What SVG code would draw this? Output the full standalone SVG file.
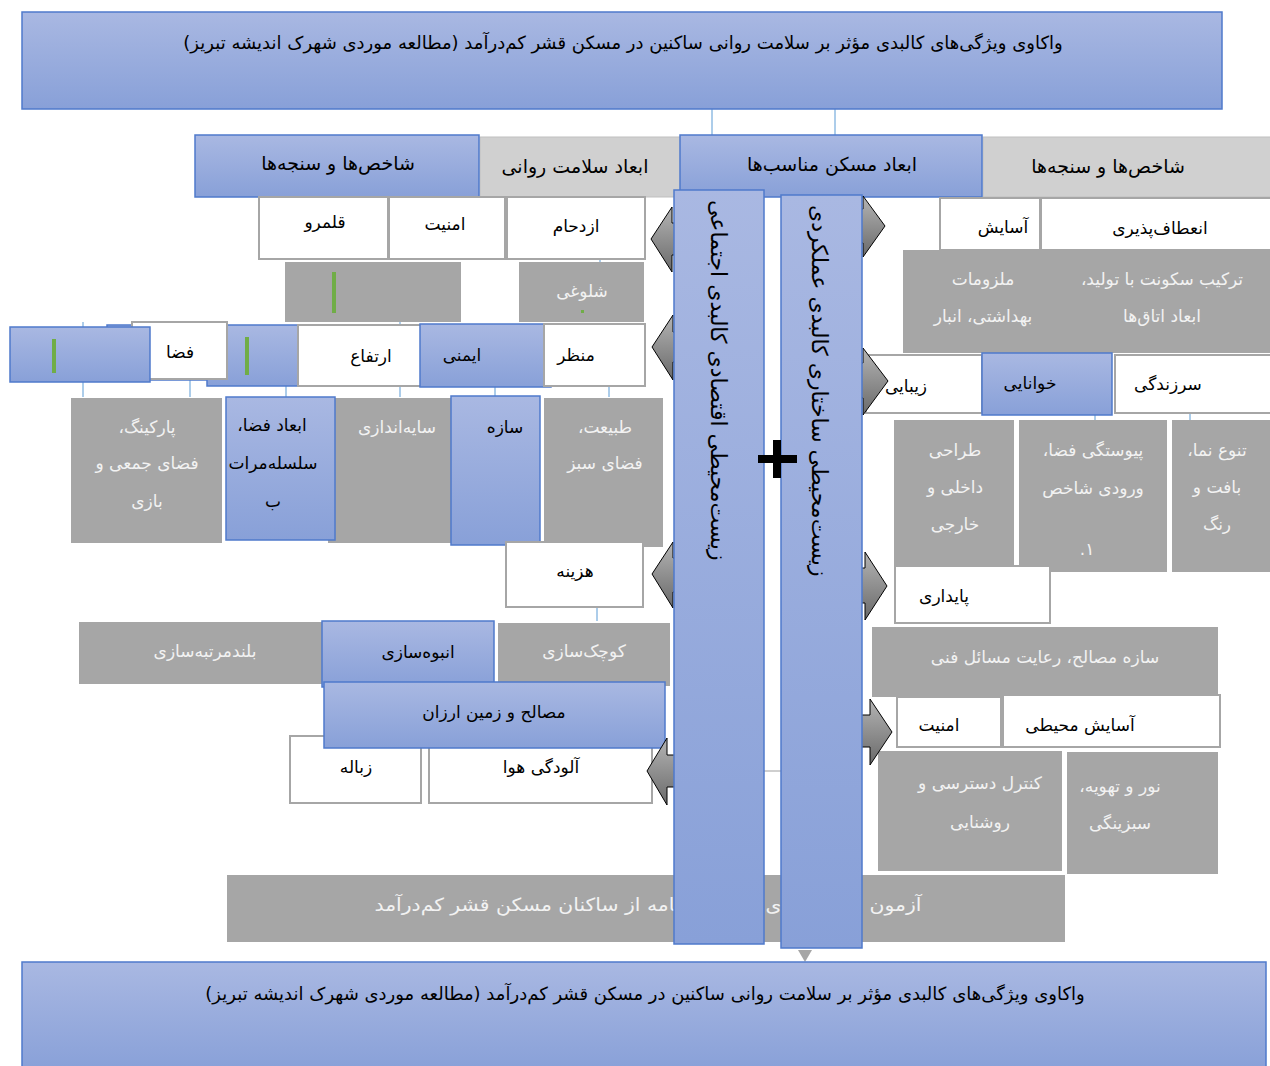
<svg xmlns="http://www.w3.org/2000/svg" width="1270" height="1066" viewBox="0 0 1270 1066">
<defs>
<linearGradient id="gb" x1="0" y1="0" x2="0" y2="1"><stop offset="0" stop-color="#a9b8e2"/><stop offset="1" stop-color="#88a0d8"/></linearGradient>
<linearGradient id="ga" x1="0" y1="0" x2="0" y2="1"><stop offset="0" stop-color="#b4b4b4"/><stop offset="1" stop-color="#6a6a6a"/></linearGradient>
<style>
.blue{fill:url(#gb);stroke:#4f7acb;stroke-width:1.5}
.gray{fill:#a6a6a6}
.white{fill:#fff;stroke:#a6a6a6;stroke-width:2}
.hdr{fill:#d0d0d0;stroke:#bfbfbf;stroke-width:1}
.arr{fill:url(#ga);stroke:#000;stroke-width:1}
.ln{stroke:#5b9bd5;stroke-width:1;fill:none}
.grn{fill:#70ad47}
text{font-family:"DejaVu Sans",sans-serif;font-size:17px;fill:#000;text-anchor:middle;dominant-baseline:central;direction:rtl}
.w{fill:#f2f2f2}
.h{font-size:19px}
.t{font-size:18px}
.v{font-size:22px;text-anchor:end}
</style>
</defs>

<g id="connectors">
<line class="ln" x1="712" y1="88" x2="712" y2="135"/>
<line class="ln" x1="835" y1="109" x2="835" y2="135"/>
<line class="ln" x1="83" y1="322" x2="83" y2="397"/>
<line class="ln" x1="190" y1="378" x2="190" y2="397"/>
<line class="ln" x1="286" y1="385" x2="286" y2="397"/>
<line class="ln" x1="400" y1="322" x2="400" y2="397"/>
<line class="ln" x1="495" y1="386" x2="495" y2="397"/>
<line class="ln" x1="609" y1="386" x2="609" y2="397"/>
<line class="ln" x1="600" y1="259" x2="600" y2="263"/>
<line class="ln" x1="597" y1="607" x2="597" y2="622"/>
<line class="ln" x1="1095" y1="413" x2="1095" y2="420"/>
<line class="ln" x1="1190" y1="413" x2="1190" y2="420"/>
<line x1="764" y1="771" x2="781" y2="771" stroke="#bfbfbf" stroke-width="1.5"/>
<path d="M798,950 L812,950 L805,962 Z" fill="#a6a6a6"/>
</g>

<g id="title-top">
<rect class="blue" x="22" y="12" width="1200" height="97"/>
<text class="t" x="623" y="42">واکاوی ویژگی‌های کالبدی مؤثر بر سلامت روانی ساکنین در مسکن قشر کم‌درآمد (مطالعه موردی شهرک اندیشه تبریز)</text>
</g>

<g id="hdr-right"><rect class="hdr" x="983" y="137" width="290" height="60"/><text class="h" x="1108" y="166">شاخص‌ها و سنجه‌ها</text></g>
<g id="hdr-mental"><rect class="hdr" x="480" y="137" width="202" height="60"/><text class="h" x="575" y="166">ابعاد سلامت روانی</text></g>
<g id="hdr-housing"><rect class="blue" x="680" y="135" width="302" height="62"/><text class="h" x="832" y="164">ابعاد مسکن مناسب‌ها</text></g>
<g id="hdr-left"><rect class="blue" x="195" y="135" width="284" height="62"/><text class="h" x="338" y="163">شاخص‌ها و سنجه‌ها</text></g>

<!-- left side -->
<g id="n-qalamro"><rect class="white" x="259" y="197" width="129" height="62"/><text x="325" y="222">قلمرو</text></g>
<g id="n-amniat1"><rect class="white" x="389" y="197" width="116" height="62"/><text x="445" y="224">امنیت</text></g>
<g id="n-ezdeham"><rect class="white" x="507" y="197" width="138" height="62"/><text x="576" y="226">ازدحام</text></g>
<g id="n-gray1"><rect class="gray" x="285" y="262" width="176" height="60"/><rect class="grn" x="332" y="272" width="4" height="41"/></g>
<g id="n-sholughi"><rect class="gray" x="519" y="262" width="125" height="60"/><text class="w" x="582" y="291">شلوغی</text><rect class="grn" x="581" y="310" width="3" height="3"/></g>

<g id="n-blueback"><rect class="blue" x="107" y="325" width="120" height="55"/></g>
<g id="n-blue3"><rect class="blue" x="207" y="325" width="110" height="61"/><rect class="grn" x="245" y="337" width="4" height="38"/></g>
<g id="n-faza"><rect class="white" x="132" y="322" width="95" height="57"/><text x="180" y="352">فضا</text></g>
<g id="n-blue2"><rect class="blue" x="10" y="327" width="140" height="55"/><rect class="grn" x="52" y="339" width="4" height="34"/></g>
<g id="n-ertefa"><rect class="white" x="298" y="325" width="144" height="61"/><text x="371" y="356">ارتفاع</text></g>
<g id="n-imeni"><rect class="blue" x="420" y="324" width="131" height="63"/><text x="462" y="355">ایمنی</text></g>
<g id="n-manzar"><rect class="white" x="544" y="324" width="101" height="62"/><text x="576" y="355">منظر</text></g>

<g id="n-parking"><rect class="gray" x="71" y="398" width="151" height="145"/><text class="w" x="147" y="427">پارکینگ،</text><text class="w" x="147" y="463">فضای جمعی و</text><text class="w" x="147" y="501">بازی</text></g>
<g id="n-sayeh"><rect class="gray" x="328" y="398" width="123" height="145"/><text class="w" x="397" y="427">سایه‌اندازی</text></g>
<g id="n-abad"><rect class="blue" x="226" y="397" width="109" height="143"/><text x="272" y="425">ابعاد فضا،</text><text x="273" y="463">سلسله‌مرات</text><text x="273" y="501">ب</text></g>
<g id="n-tabiat"><rect class="gray" x="544" y="398" width="119" height="149"/><text class="w" x="605" y="427">طبیعت،</text><text class="w" x="605" y="463">فضای سبز</text></g>
<g id="n-sazeh"><rect class="blue" x="451" y="396" width="89" height="149"/><text x="505" y="427">سازه</text></g>

<g id="n-hazineh"><rect class="white" x="506" y="542" width="137" height="65"/><text x="575" y="571">هزینه</text></g>
<g id="n-boland"><rect class="gray" x="79" y="622" width="244" height="62"/><text class="w" x="205" y="651">بلندمرتبه‌سازی</text></g>
<g id="n-kuchak"><rect class="gray" x="497" y="622" width="174" height="65" stroke="#fff" stroke-width="2"/><text class="w" x="584" y="651">کوچک‌سازی</text></g>
<g id="n-zobaleh"><rect class="white" x="290" y="736" width="131" height="67"/><text x="356" y="767">زباله</text></g>
<g id="n-aludegi"><rect class="white" x="429" y="736" width="223" height="67"/><text x="541" y="767">آلودگی هوا</text></g>
<g id="n-anbuh"><rect class="blue" x="322" y="621" width="172" height="66"/><text x="418" y="652">انبوه‌سازی</text></g>
<g id="n-masaleh"><rect class="blue" x="324" y="682" width="341" height="66"/><text x="494" y="712">مصالح و زمین ارزان</text></g>

<!-- right side -->
<g id="n-asayesh"><rect class="white" x="940" y="198" width="100" height="52"/><text x="1003" y="227">آسایش</text></g>
<g id="n-enetaf"><rect class="white" x="1041" y="198" width="232" height="52"/><text x="1160" y="228">انعطاف‌پذیری</text></g>
<g id="n-tarkib"><rect class="gray" x="903" y="250" width="370" height="103"/><text class="w" x="983" y="279">ملزومات</text><text class="w" x="983" y="316">بهداشتی، انبار</text><text class="w" x="1162" y="279">ترکیب سکونت با تولید،</text><text class="w" x="1162" y="316">ابعاد اتاق‌ها</text></g>
<g id="n-zibai"><rect class="white" x="866" y="355" width="116" height="58"/><text x="906" y="386">زیبایی</text></g>
<g id="n-sarzendegi"><rect class="white" x="1115" y="355" width="158" height="58"/><text x="1168" y="384">سرزندگی</text></g>
<g id="n-khanai"><rect class="blue" x="982" y="353" width="130" height="62"/><text x="1030" y="383">خوانایی</text></g>
<g id="n-tarahi"><rect class="gray" x="894" y="420" width="120" height="146"/><text class="w" x="955" y="450">طراحی</text><text class="w" x="955" y="487">داخلی و</text><text class="w" x="955" y="524">خارجی</text></g>
<g id="n-peyvastegi"><rect class="gray" x="1019" y="420" width="148" height="152"/><text class="w" x="1093" y="450">پیوستگی فضا،</text><text class="w" x="1093" y="488">ورودی شاخص</text><text class="w" x="1087" y="549">۱.</text></g>
<g id="n-tanavo"><rect class="gray" x="1172" y="420" width="101" height="152"/><text class="w" x="1217" y="450">تنوع نما،</text><text class="w" x="1217" y="487">بافت و</text><text class="w" x="1217" y="524">رنگ</text></g>
<g id="n-paydari"><rect class="white" x="895" y="566" width="155" height="57"/><text x="944" y="596">پایداری</text></g>
<g id="n-sazemasaleh"><rect class="gray" x="872" y="627" width="346" height="70"/><text class="w" x="1045" y="657">سازه مصالح، رعایت مسائل فنی</text></g>
<g id="n-amniat2"><rect class="white" x="897" y="697" width="104" height="50"/><text x="939" y="725">امنیت</text></g>
<g id="n-asayeshm"><rect class="white" x="1003" y="695" width="217" height="52"/><text x="1080" y="725">آسایش محیطی</text></g>
<g id="n-control"><rect class="gray" x="877" y="750" width="186" height="122" stroke="#fff" stroke-width="2"/><text class="w" x="980" y="783">کنترل دسترسی و</text><text class="w" x="980" y="822">روشنایی</text></g>
<g id="n-nur"><rect class="gray" x="1067" y="752" width="151" height="122"/><text class="w" x="1120" y="786">نور و تهویه،</text><text class="w" x="1120" y="823">سبزینگی</text></g>

<g id="n-azmun"><rect class="gray" x="227" y="875" width="838" height="67"/><text class="w t" x="648" y="904" textLength="547" lengthAdjust="spacingAndGlyphs">آزمون ابعاد کالبدی با پرسش‌نامه از ساکنان مسکن قشر کم‌درآمد</text></g>
<g id="title-bottom"><rect class="blue" x="22" y="962" width="1244" height="110"/><text class="t" x="645" y="993">واکاوی ویژگی‌های کالبدی مؤثر بر سلامت روانی ساکنین در مسکن قشر کم‌درآمد (مطالعه موردی شهرک اندیشه تبریز)</text></g>

<g id="arrows">
<path class="arr" d="M690,223 L672,223 L672,207 L651,239 L672,272 L672,255 L690,255 Z"/>
<path class="arr" d="M690,332 L673,332 L673,315 L652,347 L673,380 L673,362 L690,362 Z"/>
<path class="arr" d="M690,558 L673,558 L673,542 L652,574 L673,608 L673,592 L690,592 Z"/>
<path class="arr" d="M690,755 L667,755 L667,738 L647,771 L667,805 L667,787 L690,787 Z"/>
<path class="arr" d="M850,209 L863,209 L863,196 L885,226 L863,257 L863,243 L850,243 Z"/>
<path class="arr" d="M850,363 L863,363 L863,348 L888,381 L863,415 L863,398 L850,398 Z"/>
<path class="arr" d="M850,568 L865,568 L865,552 L887,586 L865,620 L865,603 L850,603 Z"/>
<path class="arr" d="M850,715 L870,715 L870,699 L892,732 L870,765 L870,747 L850,747 Z"/>
</g>

<g id="bar-social">
<rect class="blue" x="674" y="190" width="90" height="754"/>
<text class="v" transform="translate(718,200) rotate(90)">زیست‌محیطی اقتصادی کالبدی اجتماعی</text>
</g>
<g id="bar-structural">
<rect class="blue" x="781" y="195" width="81" height="753"/>
<text class="v" transform="translate(819,205) rotate(90)">زیست‌محیطی ساختاری کالبدی عملکردی</text>
</g>
<g id="plus">
<path d="M758,455 H797 V463 H758 Z M773,440 H781 V478 H773 Z" fill="#000"/>
</g>
</svg>
